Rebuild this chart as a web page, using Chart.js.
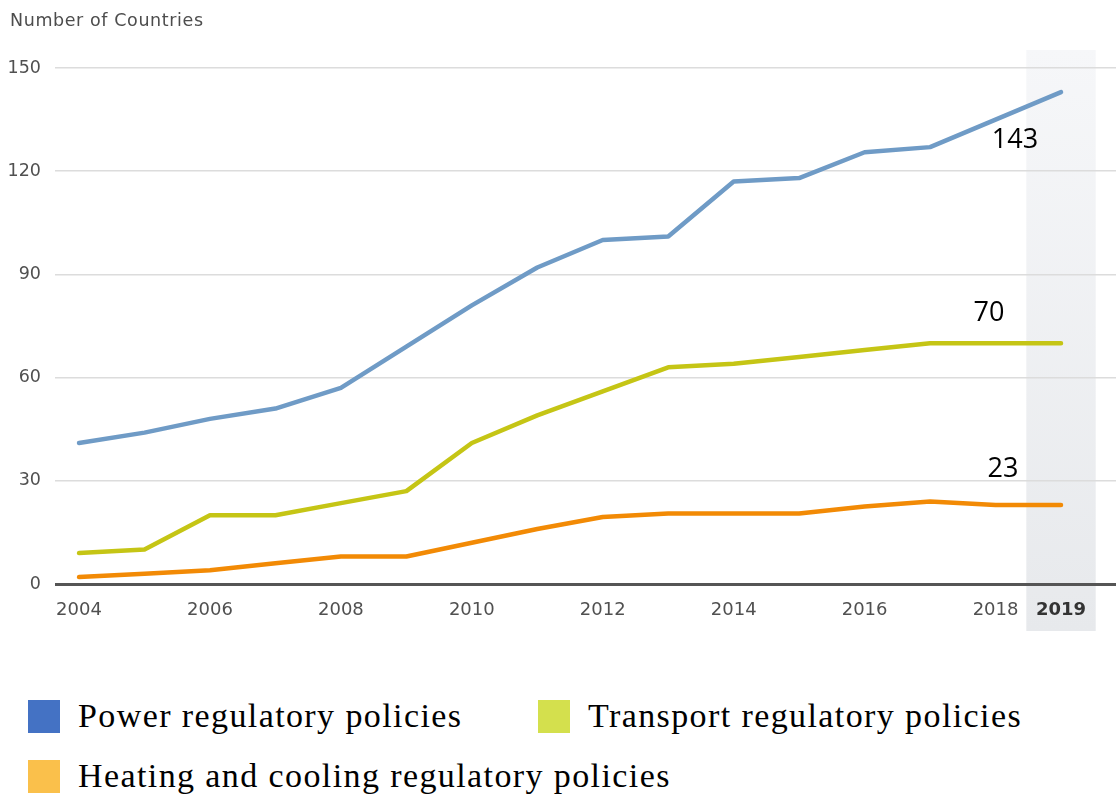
<!DOCTYPE html>
<html>
<head>
<meta charset="utf-8">
<title>Regulatory policies by sector</title>
<script src="https://cdn.jsdelivr.net/npm/chart.js@4.4.1/dist/chart.umd.min.js"></script>
<style>
  html, body { margin: 0; padding: 0; background: #ffffff; }
  #wrap { position: relative; width: 1116px; height: 796px; overflow: hidden; }
  #chartBox { position: absolute; left: 0; top: 0; width: 1116px; height: 650px; }
  .legend-item {
    position: absolute;
    display: flex;
    align-items: center;
    font-family: "Liberation Serif", "Times New Roman", serif;
    font-size: 34px;
    letter-spacing: 1.4px;
    color: #000;
    white-space: nowrap;
  }
  .swatch { width: 32px; height: 33px; margin-right: 18px; flex: none; }
</style>
</head>
<body>
<div id="wrap">
  <div id="chartBox"><canvas id="chart"></canvas></div>
  <div id="legend"></div>
</div>
<script>
// Number of countries with regulatory policies, 2004–2019
const years = [2004, 2005, 2006, 2007, 2008, 2009, 2010, 2011, 2012, 2013, 2014, 2015, 2016, 2017, 2018, 2019];
const powerPolicies     = [41, 44, 48, 51, 57, 69, 81, 92, 100, 101, 117, 118, 125.5, 127, 135, 143];
const transportPolicies = [9, 10, 20, 20, 23.5, 27, 41, 49, 56, 63, 64, 66, 68, 70, 70, 70];
const heatingPolicies   = [2, 3, 4, 6, 8, 8, 12, 16, 19.5, 20.5, 20.5, 20.5, 22.5, 24, 23, 23];

const seriesNames = ["Power regulatory policies", "Transport regulatory policies", "Heating and cooling regulatory policies"];
const xTickYears = [2004, 2006, 2008, 2010, 2012, 2014, 2016, 2018, 2019];
const yTickValues = [0, 30, 60, 90, 120, 150];
const highlightYear = 2019;
const axisCaption = "Number of Countries";

// styling
const lineColors   = ["#6f9bc6", "#c5c515", "#f28a05"];
const legendColors = ["#4472c4", "#d4e04d", "#fac04b"];
const endLabelOffsets = [[-46, 48], [-72, -30], [-58, -36]];
const legendPlacement = [[28, 697], [538, 697], [28, 757]];
const tickFamily = "'DejaVu Sans', Verdana, sans-serif";

const seriesValues = [powerPolicies, transportPolicies, heatingPolicies];

const datasets = seriesValues.map((vals, i) => ({
  label: seriesNames[i],
  data: years.map((yr, k) => ({ x: yr, y: vals[k] })),
  borderColor: lineColors[i],
  backgroundColor: lineColors[i],
  borderWidth: 4.5,
  borderCapStyle: "round",
  borderJoinStyle: "round",
  pointRadius: 0,
  tension: 0,
  fill: false
}));

// shaded column behind the latest year, caption above the value axis, end-of-line values
const decorPlugin = {
  id: "decor",
  beforeDraw(chart) {
    const { ctx, scales: { x } } = chart;
    const left = x.getPixelForValue(highlightYear - 0.53);
    const right = x.getPixelForValue(highlightYear + 0.53);
    const top = 50, bottom = 631;
    const g = ctx.createLinearGradient(0, top, 0, bottom);
    g.addColorStop(0, "#f6f7f9");
    g.addColorStop(1, "#e7e9ec");
    ctx.save();
    ctx.fillStyle = g;
    ctx.fillRect(left, top, right - left, bottom - top);
    ctx.fillStyle = "#4d4d4d";
    ctx.font = "17.5px " + tickFamily;
    ctx.letterSpacing = "0.6px";
    ctx.textAlign = "left";
    ctx.textBaseline = "alphabetic";
    ctx.fillText(axisCaption, 10, 26);
    ctx.restore();
  },
  afterDraw(chart) {
    const { ctx } = chart;
    ctx.save();
    ctx.fillStyle = "#000";
    ctx.font = "27px 'Open Sans', 'Liberation Sans', sans-serif";
    ctx.textAlign = "center";
    ctx.textBaseline = "middle";
    chart.data.datasets.forEach((ds, i) => {
      const meta = chart.getDatasetMeta(i);
      const last = meta.data[meta.data.length - 1];
      const val = ds.data[ds.data.length - 1].y;
      ctx.fillText(String(val), last.x + endLabelOffsets[i][0], last.y + endLabelOffsets[i][1]);
    });
    ctx.restore();
  }
};

new Chart(document.getElementById("chart"), {
  type: "line",
  data: { datasets },
  plugins: [decorPlugin],
  options: {
    responsive: true,
    maintainAspectRatio: false,
    animation: false,
    layout: { padding: { top: 68, left: 0, right: 0, bottom: 0 } },
    plugins: { legend: { display: false }, tooltip: { enabled: false }, title: { display: false } },
    scales: {
      x: {
        type: "linear",
        min: 2003.633,
        max: 2019.84,
        grid: { display: false, drawTicks: false },
        border: { display: false },
        afterBuildTicks(scale) { scale.ticks = xTickYears.map(v => ({ value: v })); },
        afterFit(scale) { scale.height = 66; },
        ticks: {
          autoSkip: false,
          maxRotation: 0,
          padding: 16,
          color: ctx => ctx.tick && ctx.tick.value === highlightYear ? "#333" : "#505050",
          font: ctx => ({
            family: tickFamily,
            size: 18,
            weight: ctx.tick && ctx.tick.value === highlightYear ? "bold" : "normal"
          }),
          callback: v => String(v)
        }
      },
      y: {
        min: 0,
        max: 150,
        afterBuildTicks(scale) { scale.ticks = yTickValues.map(v => ({ value: v })); },
        afterFit(scale) { scale.width = 55; },
        border: { display: false },
        grid: {
          drawTicks: false,
          color: ctx => ctx.tick && ctx.tick.value === 0 ? "#555555" : "#dcdcdc",
          lineWidth: ctx => ctx.tick && ctx.tick.value === 0 ? 3 : 1.5
        },
        ticks: {
          padding: 14,
          color: "#505050",
          font: { family: tickFamily, size: 17.5 },
          callback: v => String(v)
        }
      }
    }
  }
});

// legend below the plot
const legendEl = document.getElementById("legend");
seriesNames.forEach((name, i) => {
  const item = document.createElement("div");
  item.className = "legend-item";
  item.style.left = legendPlacement[i][0] + "px";
  item.style.top = legendPlacement[i][1] + "px";
  const sw = document.createElement("span");
  sw.className = "swatch";
  sw.style.background = legendColors[i];
  item.appendChild(sw);
  item.appendChild(document.createTextNode(name));
  legendEl.appendChild(item);
});
</script>
</body>
</html>
